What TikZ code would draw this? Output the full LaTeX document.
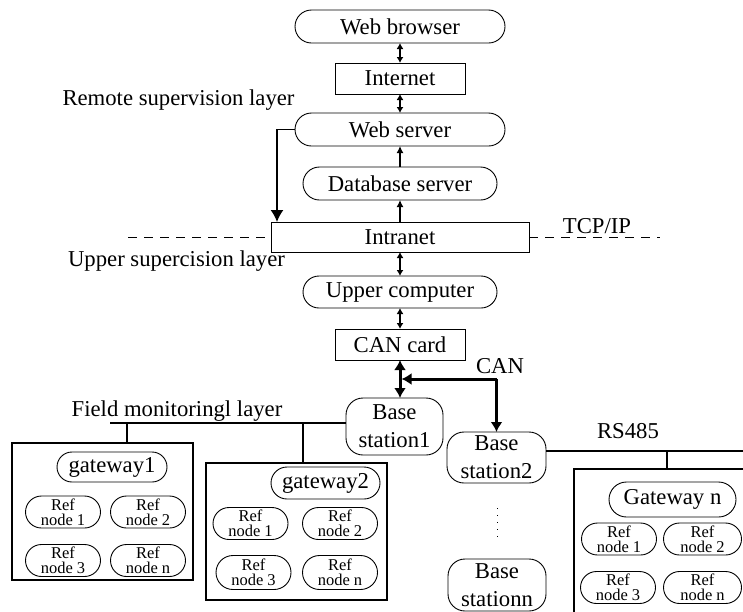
\documentclass[tikz,border=0pt]{standalone}
\usepackage{fontspec}
\setmainfont{Liberation Serif}
\usetikzlibrary{shapes.misc,arrows.meta}
\begin{document}
\begin{tikzpicture}[x=1pt,y=-1pt,
 every node/.style={font={\fontsize{22.7}{28}\selectfont}, inner sep=0pt, outer sep=0pt},
 pill/.style={draw, rounded rectangle, line width=0.9pt, minimum height=33pt},
 boxr/.style={draw, rectangle, line width=0.9pt},
 bstat/.style={draw, rectangle, rounded corners=17pt, line width=0.9pt, align=center},
 refn/.style={draw, rounded rectangle, line width=0.9pt, minimum width=75pt, minimum height=32pt, align=center, font={\fontsize{16.5}{15}\selectfont}},
 grp/.style={draw, rectangle, line width=1.3pt},
 lbl/.style={anchor=base},
 dbl/.style={{Latex[length=6pt,width=7pt]}-{Latex[length=6pt,width=7pt]}, line width=1.8pt},
 upar/.style={-{Latex[length=7pt,width=7pt]}, line width=1.5pt},
 wsar/.style={-{Latex[length=12pt,width=13pt]}, line width=1.5pt},
 candbl/.style={{Latex[length=10pt,width=12pt]}-{Latex[length=10pt,width=12pt]}, line width=3pt},
 canar/.style={-{Latex[length=10pt,width=12pt]}, line width=3pt},
 bus/.style={line width=2.5pt},
 tapline/.style={line width=1.5pt},
 layerdash/.style={line width=1pt, dash pattern=on 9pt off 7pt}
]
\clip (0,0) rectangle (743,611);

% remote / upper stack
\node[pill, minimum width=210pt] (browser) at (400,26.5) {Web browser};
\node[boxr, minimum width=130pt, minimum height=31pt] (internet) at (400,78.5) {Internet};
\node[pill, minimum width=210pt] (webserver) at (400,129.5) {Web server};
\node[pill, minimum width=194pt] (db) at (400,183.5) {Database server};
\node[boxr, minimum width=258pt, minimum height=30pt] (intranet) at (400,237) {Intranet};
\node[pill, minimum width=194pt, minimum height=32pt] (upper) at (400,292) {Upper computer};
\node[boxr, minimum width=130pt, minimum height=31pt] (cancard) at (400,344.5) {CAN card};

% base stations
\node[bstat, minimum width=97pt, minimum height=57pt] (bs1) at (394.5,426.5) {Base\\station1};
\node[bstat, minimum width=99pt, minimum height=51pt] (bs2) at (496.5,457.5) {Base\\station2};
\node[bstat, minimum width=98pt, minimum height=52pt] (bsn) at (497,585) {Base\\stationn};

% labels
\node[lbl] (lremote) at (178.5,105) {Remote supervision layer};
\node[lbl] (lupper) at (176.5,266) {Upper supercision layer};
\node[lbl] (ltcp) at (597,233) {TCP/IP};
\node[lbl] (lcan) at (500,373) {CAN};
\node[lbl] (lrs) at (628,438) {RS485};
\node[lbl] (lfield) at (177,416) {Field monitoringl layer};

% group 1
\node[grp, minimum width=181pt, minimum height=137pt] (box1) at (102.5,511.5) {};
\node[pill, minimum width=110pt, minimum height=30pt] (gw1) at (112,467) {gateway1};
\node[refn] (r11) at (63,512) {Ref\\node 1};
\node[refn] (r12) at (148,512) {Ref\\node 2};
\node[refn] (r13) at (63,560.5) {Ref\\node 3};
\node[refn] (r1n) at (148,560.5) {Ref\\node n};

% group 2
\node[grp, minimum width=181pt, minimum height=137pt] (box2) at (296.5,531.5) {};
\node[pill, minimum width=109pt, minimum height=32pt] (gw2) at (325.5,483) {gateway2};
\node[refn] (r21) at (250.5,523.5) {Ref\\node 1};
\node[refn] (r22) at (340,523.5) {Ref\\node 2};
\node[refn, minimum height=34pt] (r23) at (253.5,572.5) {Ref\\node 3};
\node[refn, minimum height=34pt] (r2n) at (340,572.5) {Ref\\node n};

% group n
\node[grp, minimum width=186pt, minimum height=171pt] (boxn) at (667,554.5) {};
\node[pill, minimum width=127pt, minimum height=35pt] (gwn) at (672.5,499.5) {Gateway n};
\node[refn] (rn1) at (619,539) {Ref\\node 1};
\node[refn, minimum width=78pt] (rn2) at (702.5,539) {Ref\\node 2};
\node[refn] (rn3) at (618,587.5) {Ref\\node 3};
\node[refn, minimum width=78pt] (rnn) at (702.5,587.5) {Ref\\node n};

% stack arrows
\draw[dbl] (browser.south) -- (internet.north);
\draw[dbl] (internet.south) -- (webserver.north);
\draw[upar] (db.north) -- (webserver.south);
\draw[upar] (intranet.north) -- (db.south);
\draw[dbl] (intranet.south) -- (upper.north);
\draw[dbl] (upper.south) -- (cancard.north);

% web server to intranet
\coordinate (wsleft) at (277,129.5);
\draw[wsar] (webserver.west) -- (wsleft) -- (wsleft |- intranet.north);

% layer dashed line
\coordinate (dl) at (128,237);
\coordinate (dr) at (660,237);
\draw[layerdash] (dl) -- (intranet.west);
\draw[layerdash] (intranet.east) -- (dr);

% CAN bus
\draw[candbl] (cancard.south) -- (cancard.south |- bs1.north);
\coordinate (canturn) at (496.5,379);
\draw[canar, shorten >=1.5pt] (canturn) -- (cancard.south |- canturn);
\draw[canar] (canturn) -- (bs2.north);

% field bus
\coordinate (fl) at (110,423);
\draw[bus] (fl) -- (bs1.west |- fl);
\coordinate (j1) at (127,423);
\coordinate (j2) at (303,423);
\draw[tapline] (j1) -- (j1 |- box1.north);
\draw[tapline] (j2) -- (j2 |- box2.north);

% RS485 bus
\coordinate (rsend) at (760,451);
\draw[bus] (bs2.east |- rsend) -- (rsend);
\coordinate (j3) at (667,451);
\draw[tapline] (j3) -- (boxn.north);

% dots
\coordinate (d1) at (497,508);
\coordinate (d2) at (497,537);
\draw[line width=1pt, dash pattern=on 1pt off 6pt] (d1) -- (d2);
\end{tikzpicture}
\end{document}
